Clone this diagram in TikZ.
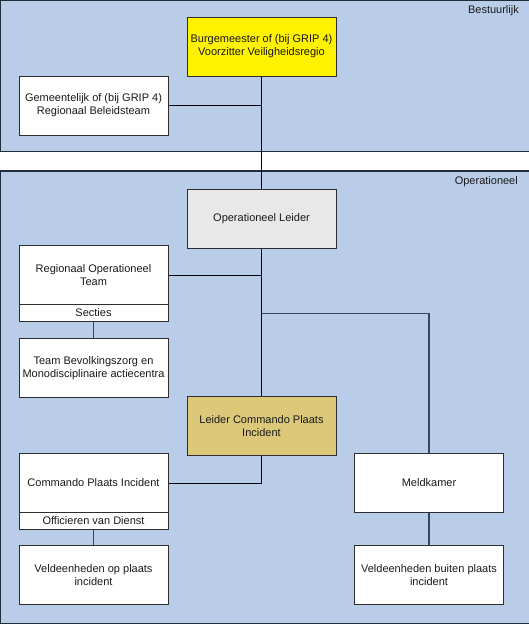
\documentclass[tikz,border=0pt]{standalone}
\usepackage{fontspec}
\setmainfont{Liberation Sans}
\usetikzlibrary{positioning}

\definecolor{zoneblue}{HTML}{B9CDE9}
\definecolor{zoneline}{HTML}{1E2C3C}
\definecolor{boxline}{HTML}{2E2E2E}
\definecolor{slate}{HTML}{34465A}
\definecolor{tan}{HTML}{DCC878}
\definecolor{lightgrey}{HTML}{E8E8E8}
\definecolor{textgrey}{HTML}{1A1A1A}

\begin{document}
\begin{tikzpicture}[x=1pt,y=-1pt,
  font=\fontsize{11}{13}\selectfont, text=textgrey,
  zone/.style={draw=zoneline, fill=zoneblue, line width=1.1pt},
  box/.style={draw=boxline, fill=white, line width=1pt, minimum width=149pt, minimum height=59pt, align=center, inner sep=2pt},
  subbox/.style={box, minimum height=17pt},
  link/.style={draw=black, line width=0.8pt},
  thicklink/.style={draw=slate, line width=1.4pt}]

  \useasboundingbox (0,0) rectangle (529,624);

  % Zones
  \draw[zone] (0.5,0.5) rectangle (531,151.5);
  \draw[zone] (0.5,171) rectangle (531,623.3);
  \node[anchor=north east, inner sep=0pt] (bestuur) at (519,5) {Bestuurlijk};
  \node[anchor=north east, inner sep=0pt] (operat) at (518,176) {Operationeel};

  % Boxes
  \node[box, fill=yellow] (burg) at (261.5,46.5) {Burgemeester of (bij GRIP 4)\\Voorzitter Veiligheidsregio};
  \node[box] (gemeente) at (93.5,105.5) {Gemeentelijk of (bij GRIP 4)\\Regionaal Beleidsteam};
  \node[box, fill=lightgrey] (opleider) at (261.5,218.5) {Operationeel Leider};
  \node[box] (rot) at (93.5,275) {Regionaal Operationeel\\Team};
  \node[subbox] (secties) at (93.5,313) {Secties};
  \node[box] (teambev) at (93.5,367.8) {Team Bevolkingszorg en\\Monodisciplinaire actiecentra};
  \node[box, fill=tan] (lcpi) at (261.5,426) {Leider Commando Plaats\\Incident};
  \node[box] (cpi) at (93.5,483) {Commando Plaats Incident};
  \node[subbox] (ovd) at (93.5,520.5) {Officieren van Dienst};
  \node[box] (meldkamer) at (429,483) {Meldkamer};
  \node[box] (velop) at (93.5,575) {Veldeenheden op plaats\\incident};
  \node[box] (velbui) at (429,575) {Veldeenheden buiten plaats\\incident};

  % Links
  \coordinate (split) at (261.5,313.5);
  \draw[link] (burg.south) -- (opleider.north);
  \draw[link] (gemeente.east) -- (burg.south |- gemeente.east);
  \draw[link] (opleider.south) -- (lcpi.north);
  \draw[link] (rot.east) -- (opleider.south |- rot.east);
  \draw[thicklink] (split) -| (meldkamer.north);
  \draw[thicklink] (secties.south) -- (teambev.north);
  \draw[link] (lcpi.south) |- (cpi.east);
  \draw[thicklink] (ovd.south) -- (velop.north);
  \draw[thicklink] (meldkamer.south) -- (velbui.north);

\end{tikzpicture}
\end{document}
